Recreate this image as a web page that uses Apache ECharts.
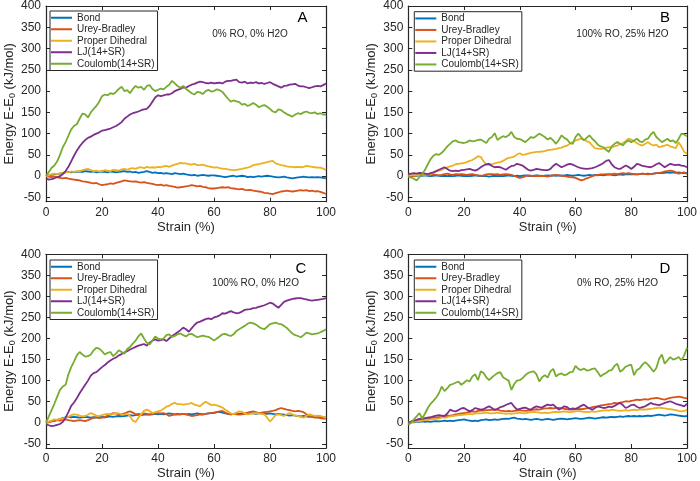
<!DOCTYPE html>
<html>
<head>
<meta charset="utf-8">
<script src="https://cdn.jsdelivr.net/npm/echarts@6/dist/echarts.min.js"></script>
<style>html,body{margin:0;padding:0;background:#fff}#c{width:700px;height:481px}</style>
</head>
<body>
<div id="c"></div>
<script>
// sampling grid (strain %, step 1)
const strain = [];
for (let i = 0; i <= 100; i++) strain.push(i);

const seriesNames = ['Bond', 'Urey-Bradley', 'Proper Dihedral', 'LJ(14+SR)', 'Coulomb(14+SR)'];
const seriesColors = ['#0072BD', '#D95319', '#EDB120', '#7E2F8E', '#77AC30'];
const xTickValues = [0, 20, 40, 60, 80, 100];
const yTickValues = [-50, 0, 50, 100, 150, 200, 250, 300, 350, 400];
const panelLetters = ['A', 'B', 'C', 'D'];
const panelNotes = ['0% RO, 0% H2O', '100% RO, 25% H2O', '100% RO, 0% H2O', '0% RO, 25% H2O'];

// ---- Panel A ----
const bondA = [0,2,3,4,5,6,8,9,10,9,10,10,11,10,12,11,10,11,9,10,11,10,9,11,10,9,10,11,12,10,11,9,10,8,9,10,12,10,8,9,7,8,6,7,6,5,7,6,5,6,4,3,2,3,1,2,3,2,1,2,2,1,0,-1,-2,-1,0,1,-1,0,1,0,-2,-1,-2,-1,0,-1,0,1,0,-1,-2,-3,-2,-1,-3,-4,-5,-4,-3,-2,-1,-2,-3,-2,-3,-2,-3,-4,-5];
const ureyA = [0,-1,-2,-1,-3,-4,-5,-4,-6,-7,-8,-9,-10,-12,-13,-14,-16,-17,-16,-19,-21,-20,-19,-17,-18,-16,-14,-12,-10,-11,-12,-13,-12,-14,-15,-14,-16,-17,-18,-20,-21,-20,-22,-21,-23,-24,-25,-27,-26,-25,-24,-23,-21,-22,-24,-23,-25,-26,-28,-29,-29,-28,-27,-26,-27,-26,-28,-29,-30,-31,-30,-32,-33,-32,-34,-35,-36,-37,-39,-40,-41,-42,-40,-38,-36,-35,-34,-35,-36,-35,-34,-33,-34,-33,-35,-34,-36,-35,-37,-39,-42];
const dihedralA = [0,2,5,6,5,7,8,10,9,11,10,12,11,14,16,17,14,12,13,11,12,14,13,12,15,14,13,16,17,15,18,19,17,20,21,19,22,20,21,20,22,21,23,24,22,25,27,29,31,30,30,28,27,29,26,26,27,25,23,22,20,21,19,18,17,16,15,14,15,16,17,19,20,22,26,27,28,30,31,33,35,36,30,28,26,25,23,22,22,21,22,21,22,24,23,22,21,20,20,18,14];
const ljA = [-5,-8,-7,-5,-2,0,5,12,22,35,48,60,70,78,85,90,93,97,100,103,107,108,110,112,115,118,122,127,135,140,145,148,150,152,155,157,158,165,175,185,190,188,190,192,192,195,200,203,205,209,208,212,215,217,220,222,221,219,218,220,218,219,220,218,222,224,224,226,227,221,220,222,218,220,219,221,218,219,217,219,221,217,214,211,208,212,213,215,216,217,213,211,211,209,207,209,211,212,211,214,218];
const coulombA = [0,10,20,25,35,50,68,80,95,110,118,122,135,147,145,138,150,158,165,175,188,192,190,195,193,198,205,210,200,202,195,205,212,208,210,203,212,214,205,200,203,206,204,210,215,224,218,212,208,212,205,200,195,192,198,197,193,200,203,199,200,204,202,198,190,182,175,178,176,174,168,170,165,168,172,168,162,165,167,163,158,152,150,157,155,150,146,143,140,145,148,146,150,152,149,148,150,146,148,145,145];

// ---- Panel B ----
const bondB = [0,1,2,1,2,1,2,1,0,1,2,1,0,1,0,1,0,1,2,1,0,1,0,1,2,1,0,1,0,-1,0,1,0,1,0,1,2,1,0,1,0,1,2,1,0,1,2,1,0,1,2,1,2,1,2,1,2,3,2,1,2,3,2,1,2,3,2,3,2,3,2,3,4,3,2,3,4,3,4,5,4,5,4,5,6,5,6,5,6,7,8,7,8,9,8,9,8,9,8,7,8];
const ureyB = [-2,-1,0,2,4,5,5,3,2,4,3,2,3,5,6,4,3,5,4,5,4,3,4,5,3,2,1,2,4,5,5,4,5,3,4,5,4,3,1,-2,-4,-3,0,2,1,0,1,0,1,0,-1,1,2,3,2,1,0,-1,-2,-3,-4,-7,-10,-8,-5,-3,0,2,3,4,4,5,4,5,6,5,6,7,6,7,6,5,4,5,6,5,4,5,6,7,8,9,11,12,13,12,9,6,8,9,5];
const dihedralB = [2,3,2,3,2,3,3,4,5,8,11,13,15,18,21,23,25,28,29,30,31,33,36,38,42,47,45,35,27,26,28,30,32,33,36,40,43,44,46,51,54,50,51,53,55,56,57,57,58,59,61,62,63,64,66,67,70,72,76,80,84,86,88,86,82,80,72,66,65,64,65,67,68,68,70,72,75,78,82,88,86,82,78,74,72,76,80,75,72,74,68,70,72,74,70,68,66,80,70,57,53];
const ljB = [5,6,7,6,8,7,6,5,7,9,12,15,18,21,17,13,12,13,12,14,15,16,17,15,13,16,21,25,28,29,24,21,22,21,18,15,20,24,25,29,27,25,20,15,13,15,17,16,15,14,14,17,24,29,25,21,24,27,29,27,24,21,19,18,17,18,19,21,24,27,31,36,38,28,21,18,17,21,25,22,17,22,29,27,24,23,22,21,24,28,31,26,21,25,29,27,26,27,25,24,21];
const coulombB = [0,-3,-6,-10,-2,5,15,28,40,48,52,50,55,62,70,76,82,84,80,79,78,80,84,82,83,85,86,82,78,88,92,101,85,90,94,92,96,104,92,88,87,84,80,86,92,90,95,100,96,92,86,90,84,76,85,96,90,86,78,76,92,100,92,84,90,96,88,82,74,70,68,62,57,70,76,80,76,72,80,84,80,84,88,82,80,86,88,98,104,92,86,80,84,88,82,84,78,88,100,98,94];

// ---- Panel C ----
const bondC = [0,2,4,5,7,9,11,13,14,13,14,13,12,13,14,13,12,13,12,13,14,13,14,15,14,15,16,15,16,17,18,17,18,19,18,19,20,19,20,21,20,21,20,21,22,21,20,21,20,21,20,21,20,21,22,21,20,21,22,23,24,25,26,24,22,21,20,21,22,21,22,21,22,23,22,21,22,23,22,21,22,21,20,21,20,19,18,17,18,17,16,15,16,15,14,15,14,13,14,13,12];
const ureyC = [0,1,3,4,6,5,7,8,6,5,4,5,6,5,4,6,9,12,13,11,12,13,17,20,23,22,19,20,22,25,27,24,20,21,20,22,21,20,21,22,23,22,23,20,16,18,20,19,20,21,20,18,16,17,18,20,19,21,22,23,23,25,27,28,24,21,20,21,20,19,20,22,24,26,27,25,23,24,25,26,27,28,30,33,35,33,31,30,28,27,28,27,25,20,16,14,12,12,11,10,10];
const dihedralC = [0,3,5,8,7,9,10,12,14,18,20,19,17,15,16,19,23,20,17,16,18,20,21,19,21,23,22,20,19,22,16,5,2,12,20,28,31,28,23,25,27,29,33,38,40,45,47,44,44,43,44,45,47,43,41,39,45,50,46,42,43,41,39,36,31,27,22,20,24,27,26,22,20,21,22,23,22,21,20,12,3,10,18,20,18,16,20,23,20,17,16,14,12,16,20,18,16,17,16,14,12];
const ljC = [-4,-6,-8,-7,-5,-3,2,12,25,40,48,58,70,80,90,100,112,118,120,126,132,137,143,148,152,155,160,163,167,170,174,177,180,183,185,187,183,190,195,198,195,196,198,194,200,206,210,215,220,226,222,216,224,232,238,240,243,246,248,246,250,252,255,260,259,262,265,262,260,261,264,268,269,270,272,273,275,277,279,282,285,283,278,273,280,287,290,292,294,295,296,296,294,293,291,290,291,292,293,294,296];
const coulombC = [0,15,30,45,62,78,86,90,115,132,145,160,168,162,157,158,162,172,178,176,170,162,166,168,158,164,172,168,164,175,180,188,195,205,212,200,190,186,195,205,200,198,200,208,210,204,206,210,212,208,205,210,211,207,203,205,207,205,204,200,195,200,205,210,211,208,206,210,218,222,226,230,235,238,236,233,228,224,222,228,234,236,238,235,234,230,225,218,212,208,206,203,208,214,212,210,211,212,215,218,222];

// ---- Panel D ----
const bondD = [0,1,1,2,2,3,2,3,2,3,4,3,4,5,4,5,4,5,6,7,8,6,5,4,5,4,6,7,8,6,7,8,7,8,9,10,9,11,12,10,9,8,9,8,7,8,9,8,7,8,9,8,7,8,9,10,9,8,9,10,11,10,9,10,11,12,11,10,11,12,13,12,13,14,13,14,15,14,15,16,15,16,15,16,15,16,17,16,17,18,19,18,17,18,20,19,18,17,16,15,16];
const ureyD = [0,2,4,5,6,7,8,9,11,12,12,13,14,16,16,17,18,20,21,22,23,24,26,27,26,28,29,29,30,30,31,30,31,29,28,27,28,27,28,29,30,29,28,29,30,31,32,31,33,34,34,35,34,35,35,34,33,32,31,31,32,33,32,33,34,35,37,38,39,41,42,43,44,45,47,46,48,49,51,50,52,53,55,54,55,56,55,57,58,59,58,56,55,57,59,60,61,62,61,59,58];
const dihedralD = [0,1,2,3,4,5,6,7,8,8,9,10,12,12,13,15,16,17,18,18,19,20,21,20,22,23,22,23,24,23,22,23,24,23,22,21,22,21,22,23,24,23,22,24,25,26,25,24,23,24,23,24,25,26,25,26,27,26,25,26,27,28,27,26,25,26,27,26,27,28,29,30,29,31,30,29,28,29,30,29,30,31,30,31,32,31,32,33,34,35,36,35,34,33,32,31,30,28,27,28,30];
const ljD = [0,3,5,7,9,10,11,12,13,15,17,18,17,16,22,31,28,27,30,34,35,31,27,30,35,33,31,32,36,39,35,31,33,37,39,42,45,47,38,31,33,35,36,33,31,36,39,37,36,40,43,41,43,37,31,35,39,37,32,34,33,36,40,43,38,34,31,35,39,37,35,36,38,37,40,44,47,42,35,38,42,43,38,35,37,39,43,47,44,43,42,44,47,49,51,48,45,43,41,39,45];
const coulombD = [-5,0,8,15,23,10,22,35,45,52,60,70,86,75,82,90,92,95,98,90,95,101,98,110,115,101,122,118,108,101,108,113,118,120,108,104,100,78,92,100,101,106,113,118,121,122,115,98,108,113,107,122,128,110,115,117,113,115,120,121,135,128,125,129,124,125,128,129,120,110,115,118,124,125,135,140,121,126,133,136,138,113,125,129,138,144,138,130,121,130,152,162,140,148,156,150,152,156,148,160,178];

const panelData = [
  [bondA, ureyA, dihedralA, ljA, coulombA],
  [bondB, ureyB, dihedralB, ljB, coulombB],
  [bondC, ureyC, dihedralC, ljC, coulombC],
  [bondD, ureyD, dihedralD, ljD, coulombD]
];

// ---- layout ----
const FONT = 'Liberation Sans, Arial, sans-serif';
const AX = '#262626';
const grids = [
  {left: 43.3, top: 5, width: 282.7, height: 196.7},
  {left: 408.3, top: 5, width: 281.7, height: 196.7},
  {left: 43.3, top: 254.3, width: 282.7, height: 196.4},
  {left: 408.3, top: 254.3, width: 281.7, height: 196.4}
];
const legendPos = [
  {left: 50, top: 11}, {left: 414.3, top: 11.7},
  {left: 50, top: 260}, {left: 414.3, top: 260}
];
const notePos = [[250, 34.3], [622.5, 34.3], [255.6, 283.3], [617.5, 283.3]];
const letterPos = [[302.5, 17.5], [665, 17.5], [301, 269.3], [665, 269.3]];

const xAxes = [], yAxes = [], series = [], legends = [], graphics = [];
grids.forEach((g, p) => {
  const tick = {show: true, inside: true, length: 4, lineStyle: {color: AX, width: 1}};
  const line = {show: true, onZero: false, lineStyle: {color: AX, width: 1.2}};
  xAxes.push({
    type: 'value', gridIndex: p, min: 0, max: 100, interval: 20, position: 'bottom',
    axisLine: line, axisTick: tick, splitLine: {show: false},
    axisLabel: {color: AX, fontSize: 12, fontFamily: FONT, margin: 5},
    name: 'Strain (%)', nameLocation: 'middle', nameGap: 19,
    nameTextStyle: {color: AX, fontSize: 13, fontFamily: FONT}
  });
  xAxes.push({
    type: 'value', gridIndex: p, min: 0, max: 100, interval: 20, position: 'top',
    axisLine: line, axisTick: tick, splitLine: {show: false}, axisLabel: {show: false}
  });
  yAxes.push({
    type: 'value', gridIndex: p, min: -60, max: 400, position: 'left',
    axisLine: line,
    axisTick: Object.assign({customValues: yTickValues}, tick),
    axisLabel: {customValues: yTickValues, color: AX, fontSize: 12, fontFamily: FONT, margin: 5},
    splitLine: {show: false},
    name: 'Energy E-E{s|0} (kJ/mol)', nameLocation: 'middle', nameGap: 29, nameRotate: 90,
    nameTextStyle: {color: AX, fontSize: 13, fontFamily: FONT, lineHeight: 16,
      rich: {s: {fontSize: 9, fontFamily: FONT, color: AX, lineHeight: 9, verticalAlign: 'bottom'}}}
  });
  yAxes.push({
    type: 'value', gridIndex: p, min: -60, max: 400, position: 'right',
    axisLine: line,
    axisTick: Object.assign({customValues: yTickValues}, tick),
    axisLabel: {show: false}, splitLine: {show: false}
  });
  panelData[p].forEach((vals, s) => {
    series.push({
      type: 'line', name: seriesNames[s], xAxisIndex: p * 2, yAxisIndex: p * 2,
      data: strain.map((x, i) => [x, vals[i]]),
      showSymbol: false, symbol: 'none', clip: true,
      lineStyle: {color: seriesColors[s], width: 1.8},
      itemStyle: {color: seriesColors[s]},
      emphasis: {disabled: true}, z: 2 + s
    });
  });
  legends.push({
    data: seriesNames, orient: 'vertical', left: legendPos[p].left, top: legendPos[p].top,
    icon: 'rect', itemWidth: 21, itemHeight: 2, itemGap: 0,
    padding: [1, 3, 1, 1], borderColor: AX, borderWidth: 1, backgroundColor: '#fff',
    textStyle: {fontSize: 10, fontFamily: FONT, color: AX, lineHeight: 11.5},
    selectedMode: false, z: 10
  });
  graphics.push({
    type: 'text', x: notePos[p][0], y: notePos[p][1], z: 20,
    style: {text: panelNotes[p], fill: AX, font: '10px ' + FONT, textAlign: 'center', textVerticalAlign: 'middle'}
  });
  graphics.push({
    type: 'text', x: letterPos[p][0], y: letterPos[p][1], z: 20,
    style: {text: panelLetters[p], fill: '#000', font: '15px ' + FONT, textAlign: 'center', textVerticalAlign: 'middle'}
  });
});

const chart = echarts.init(document.getElementById('c'), null, {renderer: 'canvas'});
chart.setOption({
  animation: false,
  backgroundColor: '#fff',
  grid: grids,
  xAxis: xAxes,
  yAxis: yAxes,
  legend: legends,
  series: series,
  graphic: graphics
});
</script>
</body>
</html>
